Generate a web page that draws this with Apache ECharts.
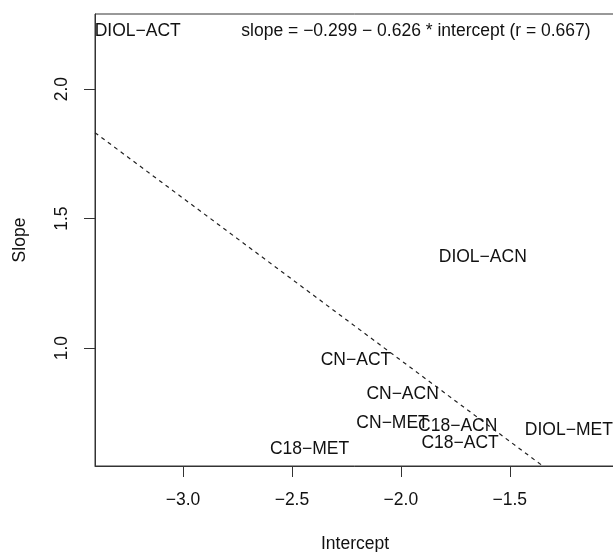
<!DOCTYPE html>
<html>
<head>
<meta charset="utf-8">
<script src="https://cdn.jsdelivr.net/npm/echarts@6/dist/echarts.min.js"></script>
<style>html,body{margin:0;padding:0;background:#fff}#c{width:613px;height:552px}</style>
</head>
<body>
<div id="c"></div>
<script>
const labels = ["DIOL\u2212ACT","DIOL\u2212ACN","CN\u2212ACT","CN\u2212ACN","CN\u2212MET","C18\u2212ACN","C18\u2212ACT","DIOL\u2212MET","C18\u2212MET"];
const intercepts = [-3.208, -1.624, -2.206, -1.992, -2.038, -1.739, -1.728, -1.229, -2.419];
const slopes = [2.225, 1.350, 0.954, 0.822, 0.710, 0.697, 0.633, 0.684, 0.610];
const fitA = -0.299, fitB = -0.626;
const xTicks = [-3.0, -2.5, -2.0, -1.5];
const yTicks = [1.0, 1.5, 2.0];
const xRange = [-3.404, -1.017];
const yRange = [0.545, 2.290];
const eqText = "slope = \u22120.299 \u2212 0.626 * intercept (r = 0.667)";

const FONT = "Liberation Sans, Arial, sans-serif";
const FS = 17.5;
const TXT = '#111';
const fmt = v => v.toFixed(1).replace('-', '\u2212');
const pts = labels.map((n, i) => ({ name: n, value: [intercepts[i], slopes[i]] }));
const lineData = [[xRange[0], fitA + fitB * xRange[0]], [xRange[1], fitA + fitB * xRange[1]]];

const chart = echarts.init(document.getElementById('c'), null, { renderer: 'canvas' });
chart.setOption({
  animation: false,
  backgroundColor: '#fff',
  grid: { left: 95, top: 14, right: -2, bottom: 86, outerBoundsMode: 'none', containLabel: false,
          show: true, borderColor: '#333', borderWidth: 1, backgroundColor: 'transparent' },
  xAxis: {
    type: 'value', min: xRange[0], max: xRange[1],
    splitLine: { show: false },
    axisLine: { show: true, onZero: false, lineStyle: { color: '#333', width: 1 } },
    axisTick: { show: true, length: 11, customValues: xTicks, lineStyle: { color: '#333' } },
    axisLabel: { customValues: xTicks, formatter: fmt, margin: 25, fontSize: FS, color: TXT, fontFamily: FONT },
    name: 'Intercept', nameLocation: 'middle', nameGap: 69,
    nameTextStyle: { fontSize: FS, color: TXT, fontFamily: FONT }
  },
  yAxis: {
    type: 'value', min: yRange[0], max: yRange[1],
    splitLine: { show: false },
    axisLine: { show: true, onZero: false, lineStyle: { color: '#333', width: 1 } },
    axisTick: { show: true, length: 11, customValues: yTicks, lineStyle: { color: '#333' } },
    axisLabel: { customValues: yTicks, formatter: fmt, rotate: 90, margin: 24, fontSize: FS, color: TXT, fontFamily: FONT },
    name: 'Slope', nameLocation: 'middle', nameGap: 66, nameRotate: 90,
    nameTextStyle: { fontSize: FS, color: TXT, fontFamily: FONT }
  },
  series: [
    {
      type: 'line', data: lineData, symbol: 'none', clip: true, silent: true,
      lineStyle: { color: '#222', width: 1.2, type: [4, 4] }
    },
    {
      type: 'scatter', data: pts, symbolSize: 0, silent: true,
      itemStyle: { opacity: 1 },
      label: { show: true, position: 'inside', formatter: p => p.name, fontSize: FS, color: TXT, opacity: 1, fontFamily: FONT },
      labelLayout: { hideOverlap: false }
    }
  ],
  graphic: [
    { type: 'text', x: 416, y: 31, style: { text: eqText, fontSize: FS, fill: TXT, fontFamily: FONT, align: 'center', verticalAlign: 'middle' } }
  ]
});
</script>
</body>
</html>
